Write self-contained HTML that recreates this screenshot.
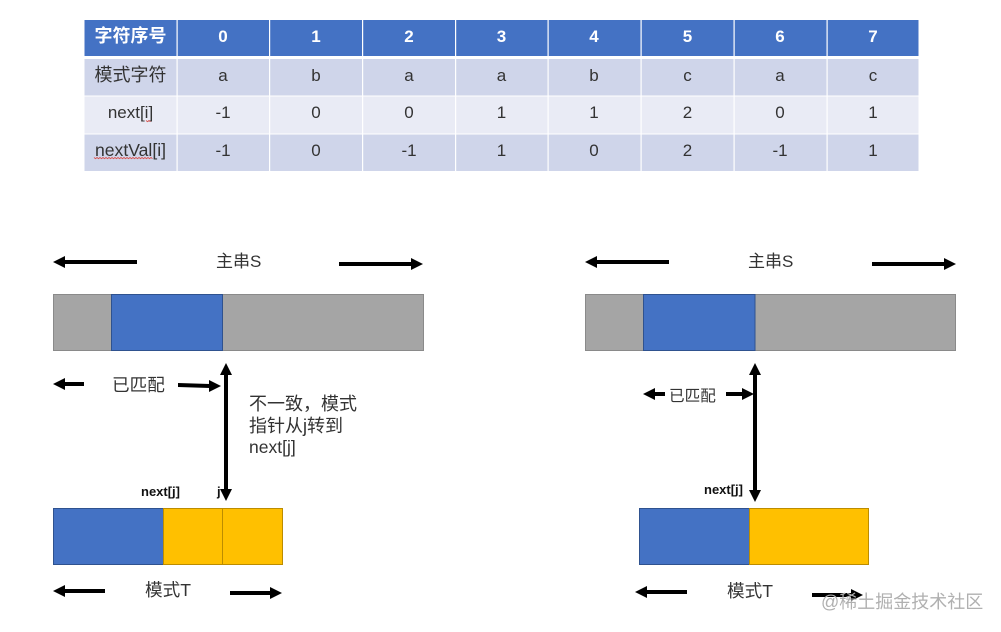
<!DOCTYPE html>
<html><head><meta charset="utf-8"><style>
html,body{margin:0;padding:0;background:#fff;width:1001px;height:632px;overflow:hidden}
svg{display:block}
text{font-family:"Liberation Sans","Noto Sans CJK SC",sans-serif;fill:#333}
.c{text-anchor:middle;font-size:17px}
.h{text-anchor:middle;font-size:17px;font-weight:bold;fill:#fff}
.l{font-size:17px}
.b{font-size:13px;font-weight:bold;fill:#111}
</style></head><body>
<svg width="1001" height="632" viewBox="0 0 1001 632" xmlns="http://www.w3.org/2000/svg">
<rect width="1001" height="632" fill="#fff"/>
<!-- table -->
<rect x="84.5" y="20" width="834" height="36" fill="#4472c4"/>
<rect x="84.5" y="59" width="834" height="36.5" fill="#cfd5ea"/>
<rect x="84.5" y="96.5" width="834" height="37" fill="#e9ebf5"/>
<rect x="84.5" y="134.5" width="834" height="36.5" fill="#cfd5ea"/>
<g fill="#fff">
<rect x="176.5" y="20" width="1.2" height="151"/><rect x="269" y="20" width="1.2" height="151"/>
<rect x="362" y="20" width="1.2" height="151"/><rect x="455" y="20" width="1.2" height="151"/>
<rect x="547.5" y="20" width="1.2" height="151"/><rect x="640.5" y="20" width="1.2" height="151"/>
<rect x="733.5" y="20" width="1.2" height="151"/><rect x="826.5" y="20" width="1.2" height="151"/>
</g>
<g>
<text class="h" x="130.5" y="42" style="font-size:18px">字符序号</text>
<text class="h" x="223" y="42">0</text><text class="h" x="316" y="42">1</text><text class="h" x="409" y="42">2</text><text class="h" x="501.5" y="42">3</text><text class="h" x="594" y="42">4</text><text class="h" x="687.5" y="42">5</text><text class="h" x="780" y="42">6</text><text class="h" x="873" y="42">7</text>
<text class="c" x="130.5" y="81" style="font-size:18px">模式字符</text>
<text class="c" x="223" y="81">a</text><text class="c" x="316" y="81">b</text><text class="c" x="409" y="81">a</text><text class="c" x="501.5" y="81">a</text><text class="c" x="594" y="81">b</text><text class="c" x="687.5" y="81">c</text><text class="c" x="780" y="81">a</text><text class="c" x="873" y="81">c</text>
<text class="c" x="130.5" y="118">next[i]</text>
<text class="c" x="223" y="118">-1</text><text class="c" x="316" y="118">0</text><text class="c" x="409" y="118">0</text><text class="c" x="501.5" y="118">1</text><text class="c" x="594" y="118">1</text><text class="c" x="687.5" y="118">2</text><text class="c" x="780" y="118">0</text><text class="c" x="873" y="118">1</text>
<text class="c" x="130.5" y="156" style="font-size:17.6px">nextVal[i]</text>
<text class="c" x="223" y="156">-1</text><text class="c" x="316" y="156">0</text><text class="c" x="409" y="156">-1</text><text class="c" x="501.5" y="156">1</text><text class="c" x="594" y="156">0</text><text class="c" x="687.5" y="156">2</text><text class="c" x="780" y="156">-1</text><text class="c" x="873" y="156">1</text>
</g>
<path d="M146 120.5l1.5 1.2 1.5-1.2 1.5 1.2" fill="none" stroke="#d9534f" stroke-width="0.9"/>
<path d="M94 157.5l1.5 1.2 1.5-1.2 1.5 1.2 1.5-1.2 1.5 1.2 1.5-1.2 1.5 1.2 1.5-1.2 1.5 1.2 1.5-1.2 1.5 1.2 1.5-1.2 1.5 1.2 1.5-1.2 1.5 1.2 1.5-1.2 1.5 1.2 1.5-1.2 1.5 1.2 1.5-1.2 1.5 1.2 1.5-1.2 1.5 1.2 1.5-1.2 1.5 1.2 1.5-1.2 1.5 1.2 1.5-1.2 1.5 1.2 1.5-1.2 1.5 1.2 1.5-1.2 1.5 1.2 1.5-1.2 1.5 1.2 1.5-1.2 1.5 1.2 1.5-1.2 1.5 1.2" fill="none" stroke="#d9534f" stroke-width="0.9"/>

<!-- left group bars -->
<rect x="53.5" y="294.5" width="370" height="56" fill="#a5a5a5" stroke="#8a8a8a"/>
<rect x="111.5" y="294.5" width="111" height="56" fill="#4472c4" stroke="#2f528f"/>
<rect x="53.5" y="508.5" width="110" height="56" fill="#4472c4" stroke="#2f528f"/>
<rect x="163.5" y="508.5" width="119" height="56" fill="#ffc000" stroke="#bc8c00"/>
<line x1="222.5" y1="508.5" x2="222.5" y2="564.5" stroke="#bc8c00"/>
<!-- right group bars -->
<rect x="585.5" y="294.5" width="370" height="56" fill="#a5a5a5" stroke="#8a8a8a"/>
<rect x="643.5" y="294.5" width="111.5" height="56" fill="#4472c4" stroke="#2f528f"/>
<rect x="639.5" y="508.5" width="110" height="56" fill="#4472c4" stroke="#2f528f"/>
<rect x="749.5" y="508.5" width="119" height="56" fill="#ffc000" stroke="#bc8c00"/>

<!-- arrows -->
<g fill="#000" stroke="none">
<rect x="62" y="260" width="75" height="4"/><polygon points="53,262 65,256 65,268"/>
<rect x="339" y="262" width="74" height="4"/><polygon points="423,264 411,258 411,270"/>
<rect x="62" y="382" width="22" height="4"/><polygon points="53,384 65,378 65,390"/>
<polygon points="178,383 210,384 210,388 178,387"/><polygon points="221,386 209,380 209,392"/>
<rect x="224" y="373" width="4" height="120"/><polygon points="226,363 220,375 232,375"/><polygon points="226,501 220,489 232,489"/>
<rect x="62" y="589" width="43" height="4"/><polygon points="53,591 65,585 65,597"/>
<rect x="230" y="591" width="42" height="4"/><polygon points="282,593 270,587 270,599"/>
<rect x="594" y="260" width="75" height="4"/><polygon points="585,262 597,256 597,268"/>
<rect x="872" y="262" width="74" height="4"/><polygon points="956,264 944,258 944,270"/>
<rect x="652" y="392" width="13" height="4"/><polygon points="643,394 655,388 655,400"/>
<rect x="726" y="392" width="18" height="4"/><polygon points="754,394 742,388 742,400"/>
<rect x="753" y="373" width="4" height="120"/><polygon points="755,363 749,375 761,375"/><polygon points="755,502 749,490 761,490"/>
<rect x="644" y="590" width="43" height="4"/><polygon points="635,592 647,586 647,598"/>
<rect x="812" y="593" width="41" height="4"/><polygon points="863,595 851,589 851,601"/>
</g>

<!-- labels -->
<text class="l" x="216" y="267">主串S</text>
<text class="l" x="748" y="267">主串S</text>
<text x="112" y="391" style="font-size:17.6px">已匹配</text>
<text x="669" y="401" style="font-size:15.6px">已匹配</text>
<text x="249" y="410" style="font-size:18px">不一致，模式</text>
<text x="249" y="432" style="font-size:18px">指针从j转到</text>
<text x="249" y="453" style="font-size:17.5px">next[j]</text>
<text class="b" x="141" y="496">next[j]</text>
<text class="b" x="217" y="496">j</text>
<text class="b" x="704" y="494">next[j]</text>
<text class="l" x="145" y="596" style="font-size:17.6px">模式T</text>
<text class="l" x="727" y="597" style="font-size:17.6px">模式T</text>
<text x="821" y="608" style="font-size:18px;fill:#b0b0b0">@稀土掘金技术社区</text>
</svg>
</body></html>
